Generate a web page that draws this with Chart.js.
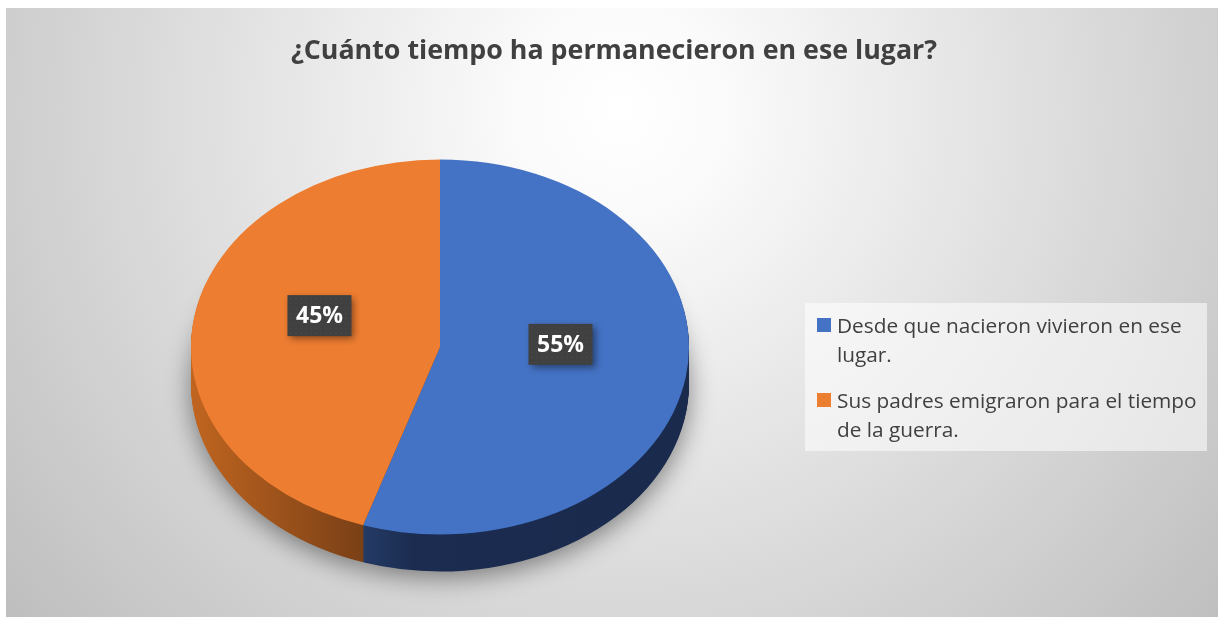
<!DOCTYPE html>
<html>
<head>
<meta charset="utf-8">
<script src="https://cdn.jsdelivr.net/npm/chart.js@4.4.0/dist/chart.umd.min.js"></script>
<style>
html, body { margin: 0; padding: 0; background: #fff; }
#wrap { width: 1218px; height: 617px; }
</style>
</head>
<body>
<div id="wrap"><canvas id="chart" width="1218" height="617"></canvas></div>
<script>
// datos del grafico
var titulo = "¿Cuánto tiempo ha permanecieron en ese lugar?";
var categorias = [
    ["Desde que nacieron vivieron en ese", "lugar."],
    ["Sus padres emigraron para el tiempo", "de la guerra."]
];
var porcentajes = [55, 45];
var colores = ["#4472C4", "#ED7D31"];

var aplastar = 0.753; // pie squash (3d tilt)
var grosor = 37;      // pie depth in px

// gray radial background + frame
var fondo = {
    id: "fondo",
    beforeDraw: function (chart) {
        var ctx = chart.ctx;
        ctx.save();
        ctx.fillStyle = "#ffffff";
        ctx.fillRect(0, 0, chart.width, chart.height);
        var g = ctx.createRadialGradient(620, 110, 0, 620, 110, 820);
        g.addColorStop(0, "#ffffff");
        g.addColorStop(0.12, "#fbfbfb");
        g.addColorStop(1, "#bcbcbc");
        ctx.fillStyle = g;
        ctx.fillRect(6, 8, chart.width - 6, chart.height - 8);
        ctx.restore();
    }
};

// side walls under the top face, tilt the top face
var pastel3d = {
    id: "pastel3d",
    beforeDatasetsDraw: function (chart) {
        var ctx = chart.ctx;
        var arcs = chart.getDatasetMeta(0).data;
        var cx = arcs[0].x, cy = arcs[0].y, r = arcs[0].outerRadius;
        var corte = (1 + Math.cos(arcs[0].endAngle)) / 2;

        ctx.save();
        ctx.translate(cx, cy);
        ctx.scale(1, aplastar);
        ctx.translate(-cx, -cy);

        var gAzul = ctx.createLinearGradient(cx - r, 0, cx + r, 0);
        gAzul.addColorStop(0, "#24395f");
        gAzul.addColorStop(corte, "#243b66");
        gAzul.addColorStop(Math.min(corte + 0.1, 1), "#1b2c50");
        gAzul.addColorStop(1, "#1a2a4d");
        var gNaranja = ctx.createLinearGradient(cx - r, 0, cx + r, 0);
        gNaranja.addColorStop(0, "#c06520");
        gNaranja.addColorStop(corte, "#7a4016");
        gNaranja.addColorStop(1, "#7a4016");
        var lados = [gAzul, gNaranja];

        for (var d = grosor; d >= 1; d--) {
            arcs.forEach(function (arc, i) {
                ctx.save();
                if (d === grosor) {
                    ctx.shadowColor = "rgba(0,0,0,0.45)";
                    ctx.shadowBlur = 26;
                    ctx.shadowOffsetY = 6;
                }
                var dy = d / aplastar;
                ctx.fillStyle = lados[i];
                ctx.beginPath();
                ctx.moveTo(arc.x, arc.y + dy);
                ctx.arc(arc.x, arc.y + dy, arc.outerRadius, arc.startAngle, arc.endAngle);
                ctx.closePath();
                ctx.fill();
                ctx.restore();
            });
        }
    },
    afterDatasetsDraw: function (chart) {
        var ctx = chart.ctx;
        ctx.restore();

        var arcs = chart.getDatasetMeta(0).data;
        arcs.forEach(function (arc, i) {
            var mid = (arc.startAngle + arc.endAngle) / 2;
            var rr = arc.outerRadius * 0.49;
            var x = arc.x + Math.cos(mid) * rr;
            var y = arc.y + Math.sin(mid) * rr * aplastar - 17;
            var w = 64, h = 41;

            ctx.save();
            ctx.shadowColor = "rgba(0,0,0,0.45)";
            ctx.shadowBlur = 7;
            ctx.shadowOffsetX = 3;
            ctx.shadowOffsetY = 3;
            ctx.fillStyle = "#404040";
            ctx.fillRect(x - w / 2, y - h / 2, w, h);
            ctx.restore();

            // dotted texture
            ctx.save();
            ctx.fillStyle = "rgba(255,255,255,0.09)";
            for (var px = x - w / 2 + 3; px < x + w / 2; px += 5) {
                for (var py = y - h / 2 + 3; py < y + h / 2; py += 5) {
                    ctx.fillRect(px, py, 1, 1);
                }
            }
            ctx.fillStyle = "#ffffff";
            ctx.font = "bold 23px 'Open Sans'";
            ctx.textAlign = "center";
            ctx.textBaseline = "middle";
            ctx.fillText(porcentajes[i] + "%", x, y + 1);
            ctx.restore();
        });
    },
    afterDraw: function (chart) {
        var ctx = chart.ctx;
        ctx.save();
        // titulo
        ctx.fillStyle = "#404040";
        ctx.font = "bold 26.8px 'Open Sans'";
        ctx.textAlign = "center";
        ctx.textBaseline = "alphabetic";
        ctx.fillText(titulo, 614, 59);

        // leyenda
        ctx.fillStyle = "rgba(255,255,255,0.55)";
        ctx.fillRect(805, 303, 402, 148);
        ctx.font = "20.8px 'Open Sans'";
        ctx.textAlign = "left";
        var base = 333;
        categorias.forEach(function (lineas, i) {
            ctx.fillStyle = colores[i];
            ctx.fillRect(817, base - 15, 14, 14);
            ctx.fillStyle = "#404040";
            lineas.forEach(function (t, j) {
                ctx.fillText(t, 837, base + j * 29);
            });
            base += lineas.length * 29 + 17;
        });
        ctx.restore();
    }
};

new Chart(document.getElementById("chart"), {
    type: "pie",
    data: {
        labels: categorias,
        datasets: [
            {
                data: porcentajes,
                backgroundColor: colores,
                borderWidth: 0,
                clip: false,
            },
        ],
    },
    options: {
        responsive: false,
        animation: false,
        events: [],
        layout: {
            padding: { left: 191, right: 529, top: 98, bottom: 21 },
        },
        plugins: {
            legend: { display: false },
            title: { display: false },
            tooltip: { enabled: false },
        },
    },
    plugins: [fondo, pastel3d],
});
</script>
</body>
</html>
